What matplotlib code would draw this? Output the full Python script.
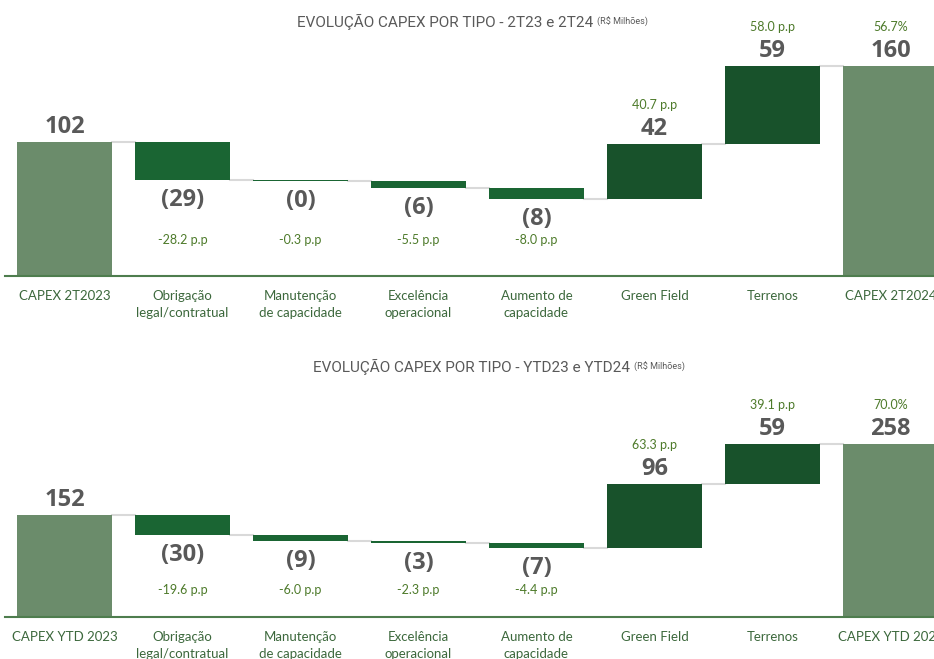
import numpy as np
import matplotlib.pyplot as plt
from matplotlib import font_manager

# dados (R$ milhões)
categorias_2t = ['CAPEX 2T2023', 'Obrigação\nlegal/contratual', 'Manutenção\nde capacidade',
                 'Excelência\noperacional', 'Aumento de\ncapacidade', 'Green Field', 'Terrenos',
                 'CAPEX 2T2024']
inicio_2t = 102
deltas_2t = [-29, -0.3, -6, -8, 42, 59]
fim_2t = 160
pp_2t = ['-28.2 p.p', '-0.3 p.p', '-5.5 p.p', '-8.0 p.p', '40.7 p.p', '58.0 p.p']
var_2t = '56.7%'

categorias_ytd = ['CAPEX YTD 2023', 'Obrigação\nlegal/contratual', 'Manutenção\nde capacidade',
                  'Excelência\noperacional', 'Aumento de\ncapacidade', 'Green Field', 'Terrenos',
                  'CAPEX YTD 2024']
inicio_ytd = 152
deltas_ytd = [-30, -9, -3, -7, 96, 59]
fim_ytd = 258
pp_ytd = ['-19.6 p.p', '-6.0 p.p', '-2.3 p.p', '-4.4 p.p', '63.3 p.p', '39.1 p.p']
var_ytd = '70.0%'

nomes = {f.name for f in font_manager.fontManager.ttflist}
fonte_titulo = 'Liberation Sans Narrow' if 'Liberation Sans Narrow' in nomes else 'Roboto'
fonte_num = 'Open Sans'
fonte_cat = 'Lato'

cor_total = '#6b8c6b'
cor_neg = '#1a6533'
cor_pos = '#18522b'
cor_eixo = '#4e7d4e'
cor_pp = '#4d7a2a'
cor_txt = '#595959'
cor_cat = '#3c683c'

W, H = 934, 659
fig = plt.figure(figsize=(W / 100, H / 100), dpi=100)


def waterfall(ax, cats, inicio, deltas, fim, pp, var, y_pp):
    n = len(cats)
    acum = inicio + np.cumsum(deltas)
    prev = np.concatenate([[inicio], acum[:-1]])
    larg = 0.8

    # totais
    ax.bar([0, n - 1], [inicio, fim], width=larg, color=cor_total, zorder=2)
    # variações
    for i, d in enumerate(deltas):
        x = i + 1
        base = min(prev[i], prev[i] + d)
        ax.bar(x, abs(d), bottom=base, width=larg, color=cor_neg if d < 0 else cor_pos, zorder=2)
        if d < 0:
            ax.annotate(f'({abs(d):.0f})', (x, base), xytext=(0, -20), textcoords='offset pixels',
                        ha='center', va='center', fontsize=17, fontweight='bold',
                        color=cor_txt, family=fonte_num)
            ax.text(x, y_pp, pp[i], ha='center', va='center', fontsize=9,
                    color=cor_pp, family=fonte_cat)
        else:
            topo = base + abs(d)
            ax.annotate(f'{d:.0f}', (x, topo), xytext=(0, 15), textcoords='offset pixels',
                        ha='center', va='center', fontsize=17, fontweight='bold',
                        color=cor_txt, family=fonte_num)
            ax.annotate(pp[i], (x, topo), xytext=(0, 39), textcoords='offset pixels',
                        ha='center', va='center', fontsize=9, color=cor_pp, family=fonte_cat)

    ax.annotate(f'{inicio:.0f}', (0, inicio), xytext=(0, 15), textcoords='offset pixels',
                ha='center', va='center', fontsize=17, fontweight='bold',
                color=cor_txt, family=fonte_num)
    ax.annotate(f'{fim:.0f}', (n - 1, fim), xytext=(0, 15), textcoords='offset pixels',
                ha='center', va='center', fontsize=17, fontweight='bold',
                color=cor_txt, family=fonte_num)
    ax.annotate(var, (n - 1, fim), xytext=(0, 39), textcoords='offset pixels',
                ha='center', va='center', fontsize=9, color=cor_pp, family=fonte_cat)

    # conectores
    niveis = np.concatenate([[inicio], acum])
    for i, nv in enumerate(niveis):
        ax.plot([i + larg / 2, i + 1 - larg / 2], [nv, nv], color='#d9d9d9', lw=1.5, zorder=1)

    ax.set_xticks(range(n))
    ax.set_xticklabels(cats, fontsize=9.5, color=cor_cat, family=fonte_cat, linespacing=1.5)
    ax.tick_params(axis='x', length=0, pad=10)
    ax.set_yticks([])
    for s in ['top', 'left', 'right']:
        ax.spines[s].set_visible(False)
    ax.spines['bottom'].set_color(cor_eixo)
    ax.spines['bottom'].set_linewidth(1.5)
    ax.set_facecolor('none')


def px_axes(y_base, altura):
    # eixo de 5px até a borda direita, barras centradas a cada 118px
    return fig.add_axes([5 / W, (H - y_base) / H, (W - 5) / W, altura / H])


ax1 = px_axes(276, 256)
ax1.set_xlim((5 - 64.5) / 118, (W - 64.5) / 118)
ax1.set_ylim(0, 256 / 1.3125)
waterfall(ax1, categorias_2t, inicio_2t, deltas_2t, fim_2t, pp_2t, var_2t, (276 - 240) / 1.3125)

ax2 = px_axes(617, 222)
ax2.set_xlim((5 - 64.5) / 118, (W - 64.5) / 118)
ax2.set_ylim(0, 222 / 0.6705)
waterfall(ax2, categorias_ytd, inicio_ytd, deltas_ytd, fim_ytd, pp_ytd, var_ytd, (617 - 590) / 0.6705)


def titulo(texto, x, y):
    t = fig.text(x / W, 1 - y / H, texto, ha='left', va='center', fontsize=11,
                 color=cor_txt, family=fonte_titulo)
    ax1.annotate('(R$ Milhões)', xy=(1, 0.18), xycoords=t, xytext=(3, 0),
                 textcoords='offset points', ha='left', va='bottom', fontsize=6.5,
                 color=cor_txt, family=fonte_titulo, annotation_clip=False)


titulo('EVOLUÇÃO CAPEX POR TIPO - 2T23 e 2T24', 297, 22)
titulo('EVOLUÇÃO CAPEX POR TIPO - YTD23 e YTD24', 313, 367)

fig.savefig('out.png', dpi=100)
